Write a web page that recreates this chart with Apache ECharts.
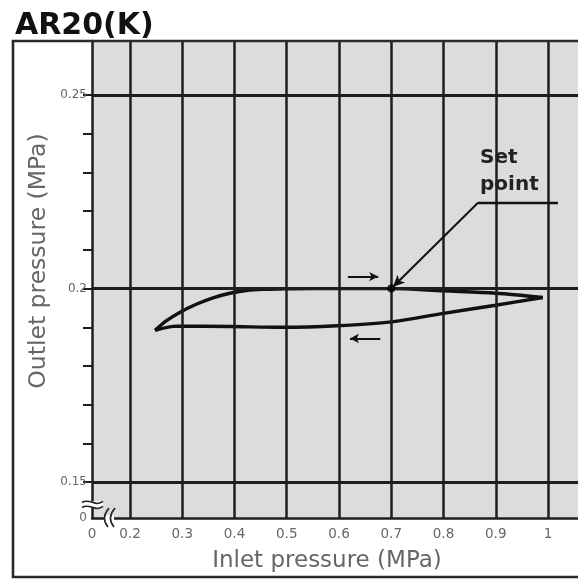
<!DOCTYPE html>
<html><head><meta charset="utf-8">
<script src="https://cdn.jsdelivr.net/npm/echarts@6/dist/echarts.min.js"></script>
<style>html,body{margin:0;padding:0;background:#fff}#c{width:578px;height:581px}</style>
</head><body><div id="c"></div>
<script>
// axis ranges (the chart is broken near 0 on both axes; right edge is cut off)
const xMin = 0.1273, xMax = 1.0574, yMin = 0.1407, yMax = 0.264;
const xLabelValues = [0.1273, 0.2, 0.3, 0.4, 0.5, 0.6, 0.7, 0.8, 0.9, 1];
const xGridValues = [0.2, 0.3, 0.4, 0.5, 0.6, 0.7, 0.8, 0.9, 1];
const yLabelValues = [0.1407, 0.15, 0.2, 0.25];
const yGridValues = [0.15, 0.2, 0.25];
const yTickValues = [0.15, 0.16, 0.17, 0.18, 0.19, 0.2, 0.21, 0.22, 0.23, 0.24, 0.25];
// hysteresis curve: inlet pressure rising (upper) and falling (lower)
const upperCurve = [
  [0.248, 0.1892], [0.270, 0.1917], [0.296, 0.1939], [0.328, 0.1960], [0.359, 0.1976],
  [0.391, 0.1988], [0.423, 0.1995], [0.455, 0.1998], [0.487, 0.1999], [0.55, 0.2],
  [0.6, 0.2], [0.7, 0.2], [0.8, 0.1994], [0.9, 0.1988], [0.990, 0.1977]
];
const lowerCurve = [
  [0.990, 0.1977], [0.90, 0.1957], [0.80, 0.1936], [0.70, 0.1914], [0.596, 0.1904],
  [0.493, 0.1900], [0.391, 0.1902], [0.290, 0.1903], [0.248, 0.1892]
];
const setPoint = [0.7, 0.2];
const setPointLabel = 'Set\npoint';
const arrowUp = [[0.617, 0.2031], [0.675, 0.2031]];
const arrowDown = [[0.679, 0.1871], [0.621, 0.1871]];
const leader = [[0.866, 0.2222], [0.703, 0.2004]];
const underline = [[0.866, 0.2222], [1.019, 0.2222]];

const chart = echarts.init(document.getElementById('c'));
const fmtX = v => v < 0.15 ? '0' : String(Math.round(v * 10) / 10);
const fmtY = v => v < 0.145 ? '0' : String(Math.round(v * 100) / 100);

chart.setOption({
  animation: false,
  backgroundColor: '#fff',
  grid: { left: 92, top: 41, right: 0, bottom: 63, show: true, backgroundColor: '#dcdcdc', borderWidth: 0 },
  xAxis: {
    type: 'value', min: xMin, max: xMax,
    axisLine: { show: true, lineStyle: { color: '#1e1e1e', width: 2.5 } },
    axisTick: { show: false },
    splitLine: { show: false },
    axisLabel: { customValues: xLabelValues, formatter: fmtX, margin: 9, color: '#666', fontFamily: 'DejaVu Sans', fontSize: 13.5 }
  },
  yAxis: {
    type: 'value', min: yMin, max: yMax,
    axisLine: { show: true, lineStyle: { color: '#1e1e1e', width: 2.5 } },
    axisTick: { show: true, customValues: yTickValues, length: 9, inside: false, lineStyle: { color: '#1e1e1e', width: 2 } },
    splitLine: { show: false },
    axisLabel: { customValues: yLabelValues, formatter: fmtY, margin: 5, color: '#666', fontFamily: 'DejaVu Sans', fontSize: 12 }
  },
  series: [
    {
      type: 'line', data: [], z: 1, silent: true,
      markLine: {
        silent: true, symbol: 'none', animation: false, label: { show: false },
        lineStyle: { color: '#1e1e1e', width: 2.5, type: 'solid' },
        data: xGridValues.map(v => ({ xAxis: v })).concat(yGridValues.map(v => ({ yAxis: v, lineStyle: { width: 3, color: '#1e1e1e', type: 'solid' } })))
      }
    },
    { type: 'line', data: upperCurve, z: 4, smooth: 0.3, symbol: 'none', lineStyle: { color: '#111', width: 3.4 } },
    { type: 'line', data: lowerCurve, z: 4, smooth: 0.3, symbol: 'none', lineStyle: { color: '#111', width: 3.4 } },
    { type: 'scatter', data: [setPoint], z: 6, symbolSize: 8, itemStyle: { color: '#000' } },
    {
      type: 'line', data: [], z: 6, silent: true,
      markLine: {
        silent: true, animation: false, label: { show: false },
        lineStyle: { color: '#111', width: 2, type: 'solid' },
        data: [
          [{ coord: arrowUp[0], symbol: 'none' }, { coord: arrowUp[1], symbol: 'arrow', symbolSize: [7, 9] }],
          [{ coord: arrowDown[0], symbol: 'none' }, { coord: arrowDown[1], symbol: 'arrow', symbolSize: [7, 9] }],
          [{ coord: leader[0], symbol: 'none' }, { coord: leader[1], symbol: 'arrow', symbolSize: [8, 12] }],
          [{ coord: underline[0], symbol: 'none' }, { coord: underline[1], symbol: 'none', lineStyle: { width: 2.4 } }]
        ]
      }
    }
  ]
});

const P = (x, y) => chart.convertToPixel({ gridIndex: 0 }, [x, y]);
const ul = P(underline[0][0], underline[0][1]);
const ur = P(underline[1][0], underline[1][1]);
const o = P(xMin, yMin);
const brk = P(xMin, 0.1442);

chart.setOption({
  graphic: [
    { type: 'rect', z: 100, shape: { x: 13, y: 41, width: 620, height: 536 }, style: { fill: 'none', stroke: '#2a2a2a', lineWidth: 2.6 } },
    { type: 'text', z: 100, x: 15, y: 41, style: { text: 'AR20(K)', font: 'bold 30px "DejaVu Sans"', fill: '#111', textVerticalAlign: 'bottom' } },
    { type: 'text', z: 100, x: 327, y: 561, style: { text: 'Inlet pressure (MPa)', font: '23px "DejaVu Sans"', fill: '#666', textAlign: 'center', textVerticalAlign: 'middle' } },
    { type: 'text', z: 100, x: 39, y: 261, rotation: Math.PI / 2, style: { text: 'Outlet pressure (MPa)', font: '23.5px "DejaVu Sans"', fill: '#666', textAlign: 'center', textVerticalAlign: 'middle' } },
    // label background hiding grid lines behind "Set point"
    { type: 'rect', z: 3, shape: { x: ul[0] - 4, y: ul[1] - 60, width: ur[0] - ul[0] + 8, height: 58 }, style: { fill: '#dcdcdc' } },
    { type: 'text', z: 100, x: ul[0] + 2, y: ul[1] - 4, style: { text: setPointLabel, font: 'bold 20px "DejaVu Sans"', lineHeight: 27, fill: '#222', textVerticalAlign: 'bottom' } },
    // axis break marks
    { type: 'rect', z: 100, shape: { x: brk[0] - 10, y: brk[1] - 3, width: 21, height: 6 }, style: { fill: '#fff' } },
    { type: 'bezierCurve', z: 101, shape: { x1: brk[0] - 10, y1: brk[1] - 2, cpx1: brk[0] - 2, cpy1: brk[1] - 7, cpx2: brk[0] + 3, cpy2: brk[1] + 3, x2: brk[0] + 11, y2: brk[1] - 3 }, style: { stroke: '#222', lineWidth: 1.6, fill: 'none' } },
    { type: 'bezierCurve', z: 101, shape: { x1: brk[0] - 10, y1: brk[1] + 3, cpx1: brk[0] - 2, cpy1: brk[1] - 2, cpx2: brk[0] + 3, cpy2: brk[1] + 8, x2: brk[0] + 11, y2: brk[1] + 2 }, style: { stroke: '#222', lineWidth: 1.6, fill: 'none' } },
    { type: 'rect', z: 100, shape: { x: o[0] + 13, y: o[1] - 3, width: 9, height: 6 }, style: { fill: '#fff' } },
    { type: 'bezierCurve', z: 101, shape: { x1: o[0] + 17, y1: o[1] - 10, cpx1: o[0] + 11, cpy1: o[1] - 3, cpx2: o[0] + 11, cpy2: o[1] + 3, x2: o[0] + 16, y2: o[1] + 9 }, style: { stroke: '#222', lineWidth: 1.6, fill: 'none' } },
    { type: 'bezierCurve', z: 101, shape: { x1: o[0] + 23, y1: o[1] - 10, cpx1: o[0] + 17, cpy1: o[1] - 3, cpx2: o[0] + 17, cpy2: o[1] + 3, x2: o[0] + 22, y2: o[1] + 9 }, style: { stroke: '#222', lineWidth: 1.6, fill: 'none' } }
  ]
});
</script>
</body></html>
